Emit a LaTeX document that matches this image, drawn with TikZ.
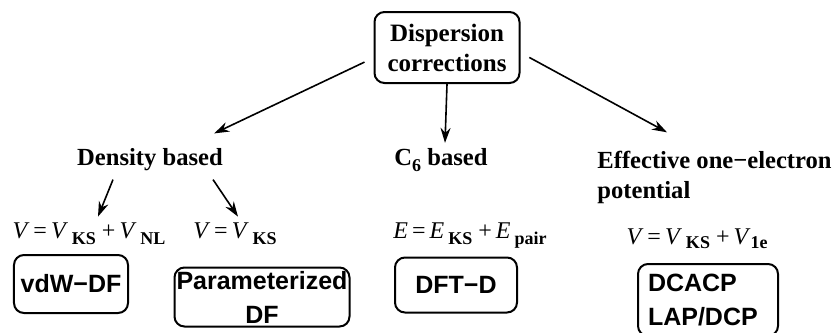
\documentclass[tikz,border=0pt]{standalone}
\usepackage{fontspec}
\setmainfont{Liberation Serif}
\setsansfont{Liberation Sans}
\usetikzlibrary{arrows.meta}

\newcommand{\lowsub}[2][-0.55ex]{\raisebox{#1}{\textbf{\small #2}}}

\begin{document}
\begin{tikzpicture}[x=0.5pt, y=-0.5pt,
  catbox/.style={draw, line width=1pt, rounded corners=5pt, align=center,
                 font=\sffamily\bfseries\fontsize{12.5}{17}\selectfont},
  head/.style={font=\bfseries\fontsize{12.3}{15}\selectfont, inner sep=0pt},
  eqn/.style={font=\fontsize{12}{14}\selectfont, inner sep=0pt},
  arr/.style={-{Stealth[length=7.5pt,width=5pt]}, line width=0.8pt}]
\clip (0,0) rectangle (833,332);

% root
\node[draw, line width=1pt, rounded corners=5pt, align=center,
      minimum width=72.5pt, minimum height=35.5pt,
      font=\bfseries\fontsize{12.5}{15}\selectfont] (disp) at (447,47.5)
  {Dispersion\\corrections};

% three families
\node[head] (dens) at (150,160) {Density based};
\node[head] (csix) at (441,160) {C\lowsub{6} based};
\node[head, align=left, anchor=west] (eff) at (597,177)
  {Effective one\textminus electron\\potential};

% equations
\node[eqn] (eqnl) at (89,234) {\textit{V}\,=\,\textit{V}\,\lowsub{KS} +\,\textit{V}\,\lowsub{NL}};
\node[eqn] (eqks) at (235,234) {\textit{V}\,=\,\textit{V}\,\lowsub{KS}};
\node[eqn] (eqpair) at (470,236) {\textit{E}\,=\,\textit{E}\,\lowsub{KS} +\,\textit{E}\,\lowsub{pair}};
\node[eqn] (eqone) at (697,239) {\textit{V}\,=\,\textit{V}\,\lowsub[-0.35ex]{KS} +\,\textit{V}\lowsub[-0.3ex]{1e}};

% methods
\node[catbox, minimum width=56pt, minimum height=29pt] (vdw) at (71,284) {vdW\textminus DF};
\node[catbox, minimum width=87.5pt, minimum height=29.5pt, inner sep=1pt] (param) at (262,297)
  {Parameterized\\DF};
\node[catbox, minimum width=61pt, minimum height=27.5pt] (dftd) at (456,285) {DFT\textminus D};
\node[catbox, anchor=north, align=left, text width=60pt, inner xsep=5pt,
      inner ysep=5pt] (dcacp) at (708,263) {DCACP\\LAP/DCP\\[2pt]};

% arrows
\draw[arr, shorten <=5pt] (disp.-172.5) -- ([shift={(-9,-15)}]dens.north east);
\draw[arr] (disp.south) -- ([shift={(4,-5)}]csix.north);
\draw[arr, shorten <=5pt] (disp.-4) -- ([shift={(70,-18)}]eff.north west);
\draw[arr] ([shift={(-37,8)}]dens.south) -- ([shift={(9,-6)}]eqnl.north);
\draw[arr] ([shift={(63,8)}]dens.south) -- ([shift={(3,-6)}]eqks.north);
\end{tikzpicture}
\end{document}
